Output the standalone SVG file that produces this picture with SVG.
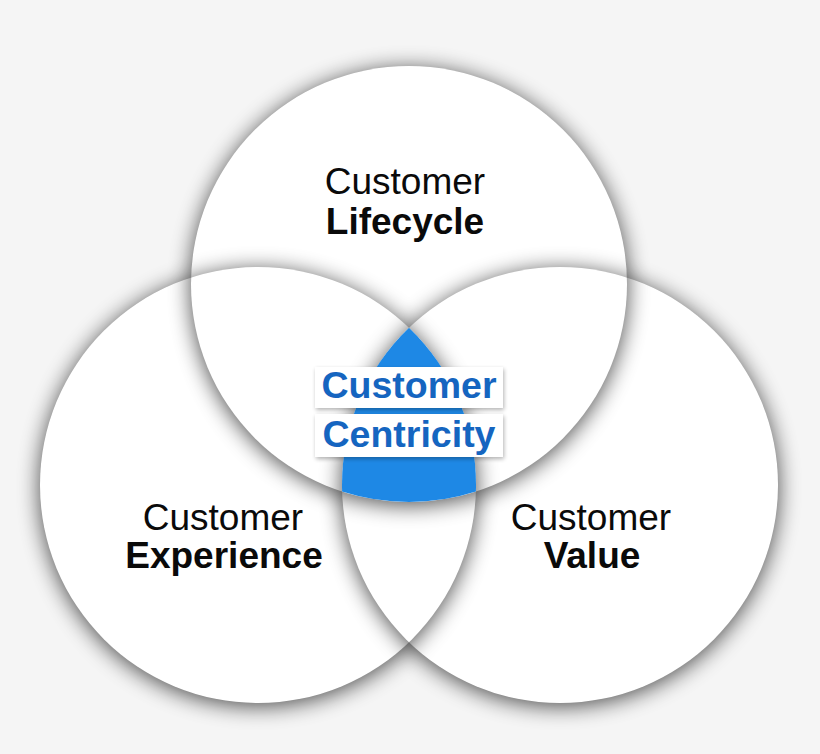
<svg xmlns="http://www.w3.org/2000/svg" width="820" height="754" viewBox="0 0 820 754">
  <defs>
    <style>
      .disc { fill: #ffffff; }
      .shade { fill: #000000; filter: url(#blur); }
      .lbl { font-family: "Liberation Sans", Arial, sans-serif; font-size: 37px; fill: #0a0a0a; text-anchor: middle; }
      .b { font-weight: bold; }
      .ctr { font-family: "Liberation Sans", Arial, sans-serif; font-size: 37.5px; font-weight: bold; fill: #1565c0; text-anchor: middle; }
      .box { fill: #ffffff; filter: url(#boxsh); }
    </style>
    <filter id="blur" x="-20%" y="-20%" width="140%" height="140%">
      <feGaussianBlur stdDeviation="11"/>
      <feOffset dx="0" dy="3"/>
    </filter>
    <filter id="boxsh" x="-10%" y="-30%" width="120%" height="160%">
      <feGaussianBlur in="SourceAlpha" stdDeviation="2"/>
      <feOffset dx="1" dy="2"/>
      <feComponentTransfer><feFuncA type="linear" slope="0.3"/></feComponentTransfer>
      <feMerge><feMergeNode/><feMergeNode in="SourceGraphic"/></feMerge>
    </filter>
    <mask id="mT" maskUnits="userSpaceOnUse" x="0" y="0" width="820" height="754">
      <rect width="820" height="754" fill="#fff"/>
      <circle cx="409" cy="284" r="218" fill="#000"/>
    </mask>
    <mask id="mL" maskUnits="userSpaceOnUse" x="0" y="0" width="820" height="754">
      <rect width="820" height="754" fill="#fff"/>
      <circle cx="258" cy="485" r="218" fill="#000"/>
    </mask>
    <mask id="mR" maskUnits="userSpaceOnUse" x="0" y="0" width="820" height="754">
      <rect width="820" height="754" fill="#fff"/>
      <circle cx="560" cy="485" r="218" fill="#000"/>
    </mask>
  </defs>

  <rect width="820" height="754" fill="#f5f5f5"/>

  <g id="lifecycle">
    <circle class="disc" cx="409" cy="284" r="218"/>
  </g>
  <g id="experience">
    <circle class="disc" cx="258" cy="485" r="218"/>
  </g>
  <g id="value">
    <circle class="disc" cx="560" cy="485" r="218"/>
  </g>

  <g id="shadows" opacity="0.7">
    <g mask="url(#mT)"><circle class="shade" cx="409" cy="284" r="218"/></g>
    <g mask="url(#mL)"><circle class="shade" cx="258" cy="485" r="218"/></g>
    <g mask="url(#mR)"><circle class="shade" cx="560" cy="485" r="218"/></g>
  </g>

  <g id="connectors"></g>

  <g id="centricity">
    <path d="M409,327.75 A218,218 0 0,1 475.9,491.5 A218,218 0 0,1 342.1,491.5 A218,218 0 0,1 409,327.75 Z" fill="#1e88e5"/>
    <rect class="box" x="315" y="367" width="188" height="41"/>
    <rect class="box" x="315" y="414" width="188" height="43"/>
    <text class="ctr" x="409" y="398">Customer</text>
    <text class="ctr" x="409" y="447">Centricity</text>
  </g>

  <g id="lifecycle-label">
    <text class="lbl" x="405" y="194">Customer</text>
    <text class="lbl b" x="405" y="234">Lifecycle</text>
  </g>
  <g id="experience-label">
    <text class="lbl" x="223" y="530">Customer</text>
    <text class="lbl b" x="224" y="568">Experience</text>
  </g>
  <g id="value-label">
    <text class="lbl" x="591" y="530">Customer</text>
    <text class="lbl b" x="592" y="568">Value</text>
  </g>
</svg>
